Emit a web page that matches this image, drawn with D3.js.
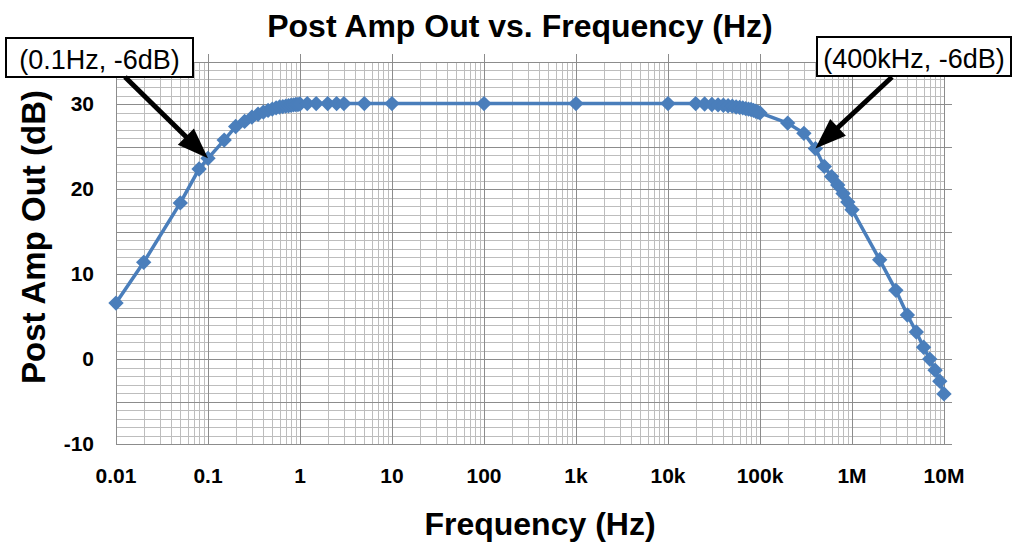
<!DOCTYPE html>
<html>
<head>
<meta charset="utf-8">
<script src="https://cdn.jsdelivr.net/npm/d3@7"></script>
<style>
  html, body { margin: 0; padding: 0; background: #ffffff; }
  svg { display: block; }
</style>
</head>
<body>
<svg id="chart" width="1013" height="546"></svg>
<script>
// Measured post-amplifier gain versus frequency
const freqHz = [
  0.01, 0.02, 0.05, 0.08, 0.1, 0.15,
  0.2, 0.25, 0.3, 0.35, 0.4, 0.45, 0.5, 0.55, 0.6, 0.65, 0.7, 0.75, 0.8, 0.85, 0.9, 0.95, 1,
  1.2, 1.5, 2, 2.5, 3, 5, 10, 100, 1000, 10000,
  20000, 25000, 30000, 35000, 40000, 45000, 50000, 55000, 60000, 65000, 70000, 75000, 80000, 85000, 90000, 95000, 100000,
  200000, 300000, 400000, 500000, 600000, 700000, 800000, 900000, 1000000,
  2000000, 3000000, 4000000, 5000000, 6000000, 7000000, 8000000, 9000000, 10000000
];
const ampDb = [
  6.6, 11.4, 18.4, 22.4, 23.65, 25.8,
  27.4, 28.0, 28.5, 28.85, 29.1, 29.3, 29.45, 29.6, 29.7, 29.75, 29.8, 29.85, 29.9, 29.95, 30.0, 30.0, 30.05,
  30.1, 30.1, 30.1, 30.1, 30.1, 30.1, 30.1, 30.1, 30.1, 30.1,
  30.1, 30.05, 30.0, 29.95, 29.9, 29.85, 29.8, 29.7, 29.65, 29.6, 29.5, 29.45, 29.4, 29.3, 29.2, 29.1, 29.0,
  27.8, 26.6, 24.8, 22.7, 21.5, 20.5, 19.5, 18.5, 17.6,
  11.7, 8.1, 5.2, 3.2, 1.4, 0.0, -1.3, -2.6, -4.1
];

// Axis ticks
const xTickValues = [0.01, 0.1, 1, 10, 100, 1000, 10000, 100000, 1000000, 10000000];
const xTickLabels = ["0.01", "0.1", "1", "10", "100", "1k", "10k", "100k", "1M", "10M"];
const yTickValues = [-10, 0, 10, 20, 30];
const yDomain = [-10, 35];

// Callouts: label text and the frequency each arrow points at
const calloutLabels = ["(0.1Hz, -6dB)", "(400kHz, -6dB)"];
const calloutFreqs = [0.1, 400000];

const titleText = "Post Amp Out vs. Frequency (Hz)";
const xTitleText = "Frequency (Hz)";
const yTitleText = "Post Amp Out (dB)";

const W = 1013, H = 546;
const plot = { left: 116, right: 944, top: 62, bottom: 444 };
const seriesColor = "#4a7ebb";
const minorGrid = "#bdbdbd";
const majorGrid = "#8c8c8c";
const boldFont = "'Liberation Sans', Arial, sans-serif";

const svg = d3.select("#chart");
svg.append("rect").attr("width", W).attr("height", H).attr("fill", "#ffffff");

const x = d3.scaleLog().domain([xTickValues[0], xTickValues[xTickValues.length - 1]]).range([plot.left, plot.right]);
const y = d3.scaleLinear().domain(yDomain).range([plot.bottom, plot.top]);

const grid = svg.append("g").attr("shape-rendering", "crispEdges");

// Minor vertical gridlines at 2..9 within each decade
const minorX = [];
xTickValues.slice(0, -1).forEach(d => { for (let k = 2; k <= 9; k++) minorX.push(d * k); });
grid.selectAll("line.vminor").data(minorX).join("line")
  .attr("x1", d => Math.round(x(d)) + 0.5).attr("x2", d => Math.round(x(d)) + 0.5)
  .attr("y1", plot.top).attr("y2", plot.bottom)
  .attr("stroke", minorGrid).attr("stroke-width", 1);

// Minor horizontal gridlines every 1 dB
const minorY = d3.range(yDomain[0], yDomain[1] + 1, 1).filter(v => v % 5 !== 0);
grid.selectAll("line.hminor").data(minorY).join("line")
  .attr("x1", plot.left).attr("x2", plot.right)
  .attr("y1", d => Math.round(y(d)) + 0.5).attr("y2", d => Math.round(y(d)) + 0.5)
  .attr("stroke", minorGrid).attr("stroke-width", 1);

// Major horizontal gridlines every 5 dB, with outside ticks on the right
const majorY = d3.range(yDomain[0], yDomain[1] + 1, 5);
grid.selectAll("line.hmajor").data(majorY).join("line")
  .attr("x1", plot.left).attr("x2", plot.right + 8)
  .attr("y1", d => Math.round(y(d)) + 0.5).attr("y2", d => Math.round(y(d)) + 0.5)
  .attr("stroke", majorGrid).attr("stroke-width", 1);

// Major vertical gridlines at each decade, with outside ticks on top
grid.selectAll("line.vmajor").data(xTickValues).join("line")
  .attr("x1", d => Math.round(x(d)) + 0.5).attr("x2", d => Math.round(x(d)) + 0.5)
  .attr("y1", plot.top - 8).attr("y2", plot.bottom)
  .attr("stroke", majorGrid).attr("stroke-width", 1);

// Tick labels
svg.append("g").selectAll("text").data(xTickValues).join("text")
  .attr("x", d => x(d)).attr("y", plot.bottom + 39)
  .attr("text-anchor", "middle")
  .attr("font-family", boldFont).attr("font-weight", "bold").attr("font-size", 21)
  .attr("fill", "#000")
  .text((d, i) => xTickLabels[i]);

svg.append("g").selectAll("text").data(yTickValues).join("text")
  .attr("x", 94).attr("y", d => y(d) + 7)
  .attr("text-anchor", "end")
  .attr("font-family", boldFont).attr("font-weight", "bold").attr("font-size", 21)
  .attr("fill", "#000")
  .text(d => d);

// Series line and diamond markers
const pts = freqHz.map((f, i) => ({ f, v: ampDb[i] }));
svg.append("path").datum(pts)
  .attr("d", d3.line().x(d => x(d.f)).y(d => y(d.v)))
  .attr("fill", "none").attr("stroke", seriesColor).attr("stroke-width", 3.5)
  .attr("stroke-linejoin", "round");

const diamond = d3.symbol().type(d3.symbolSquare).size(118);
svg.append("g").selectAll("path").data(pts).join("path")
  .attr("d", diamond)
  .attr("transform", d => `translate(${x(d.f)},${y(d.v)}) rotate(45)`)
  .attr("fill", seriesColor);

// Titles
svg.append("text").attr("x", 520).attr("y", 37)
  .attr("text-anchor", "middle")
  .attr("font-family", boldFont).attr("font-weight", "bold").attr("font-size", 32)
  .text(titleText);

svg.append("text").attr("x", 540).attr("y", 535)
  .attr("text-anchor", "middle")
  .attr("font-family", boldFont).attr("font-weight", "bold").attr("font-size", 32)
  .text(xTitleText);

svg.append("text")
  .attr("transform", "translate(45,237) rotate(-90)")
  .attr("text-anchor", "middle")
  .attr("font-family", boldFont).attr("font-weight", "bold").attr("font-size", 33)
  .text(yTitleText);

// Callout boxes with arrows to the -6 dB points
const boxes = [
  { x0: 6, y0: 38, x1: 193, y1: 77, sx: 125, sy: 77 },
  { x0: 817, y0: 37, x1: 1011, y1: 76, sx: 892, sy: 77 }
];
const valueAt = f => ampDb[freqHz.indexOf(f)];

calloutLabels.forEach((label, i) => {
  const b = boxes[i];
  const g = svg.append("g");
  g.append("rect")
    .attr("x", b.x0).attr("y", b.y0)
    .attr("width", b.x1 - b.x0).attr("height", b.y1 - b.y0)
    .attr("fill", "#ffffff").attr("stroke", "#000").attr("stroke-width", 2);
  g.append("text")
    .attr("x", (b.x0 + b.x1) / 2).attr("y", b.y1 - 8)
    .attr("text-anchor", "middle")
    .attr("font-family", "'Liberation Sans', Arial, sans-serif").attr("font-size", 27)
    .attr("fill", "#000")
    .text(label);

  const tx = x(calloutFreqs[i]), ty = y(valueAt(calloutFreqs[i]));
  const dx = tx - b.sx, dy = ty - b.sy;
  const len = Math.hypot(dx, dy);
  const ux = dx / len, uy = dy / len;
  const headLen = 31, headHalf = 11.5;
  const bx = tx - ux * headLen, by = ty - uy * headLen;
  g.append("line")
    .attr("x1", b.sx).attr("y1", b.sy).attr("x2", bx + ux * 2).attr("y2", by + uy * 2)
    .attr("stroke", "#000").attr("stroke-width", 5);
  g.append("path")
    .attr("d", `M${tx},${ty}L${bx - uy * headHalf},${by + ux * headHalf}L${bx + uy * headHalf},${by - ux * headHalf}Z`)
    .attr("fill", "#000");
});
</script>
</body>
</html>
